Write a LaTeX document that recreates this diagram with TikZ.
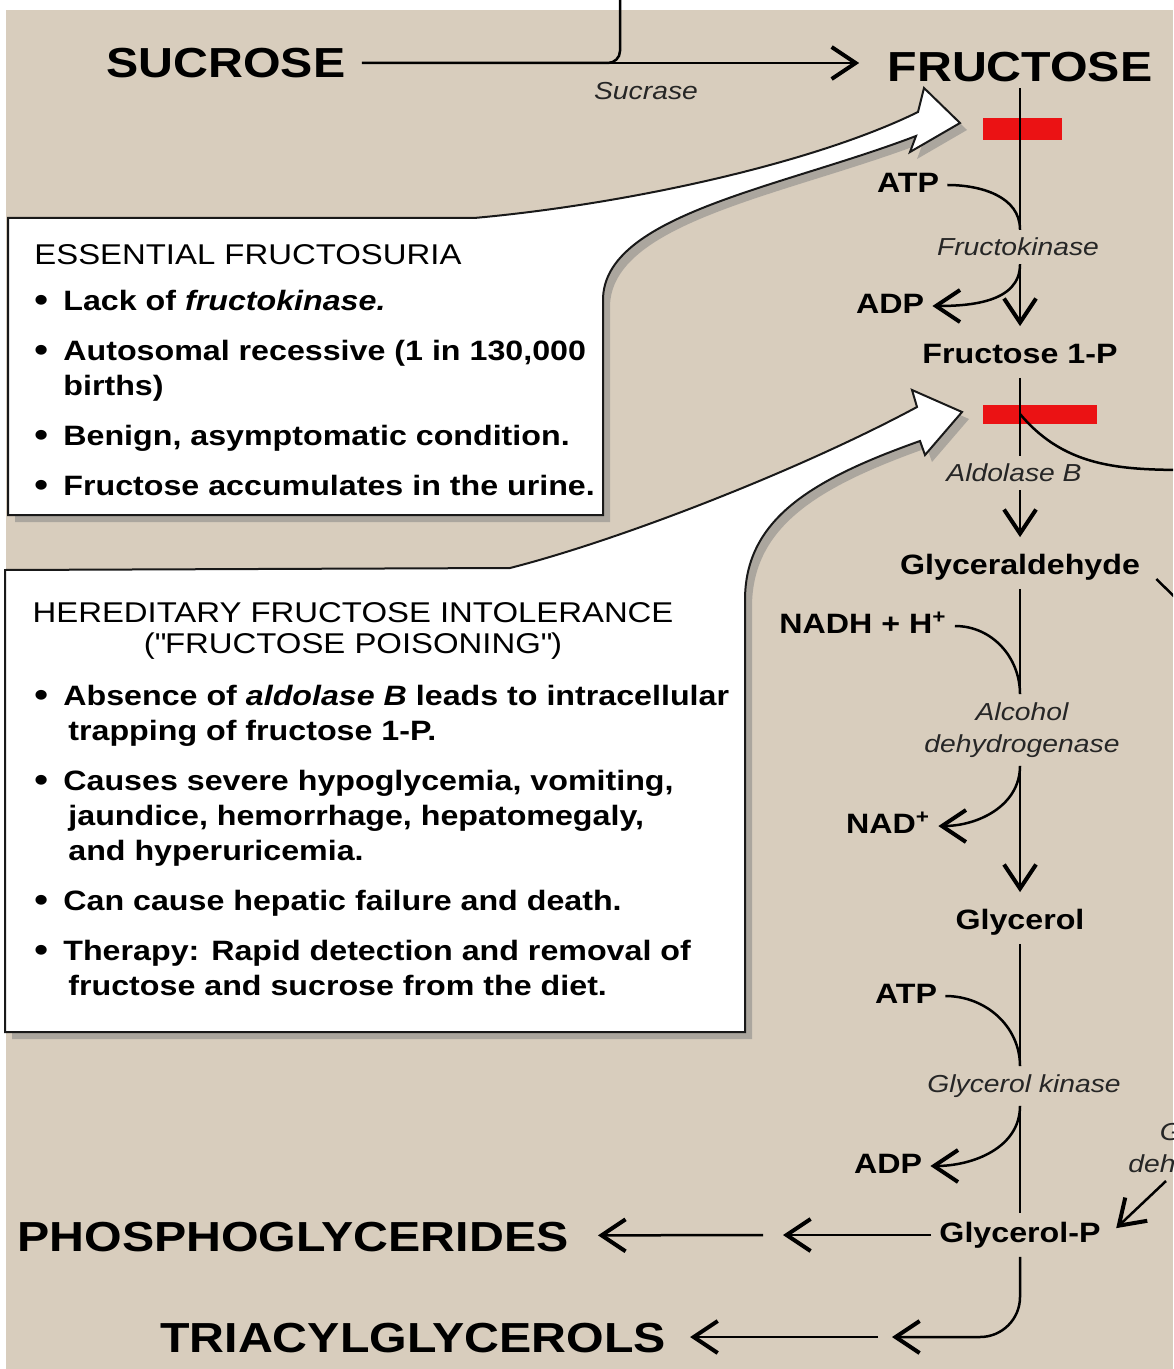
\documentclass[tikz,border=0pt]{standalone}
\usepackage{fontspec}
\setmainfont{Liberation Sans}[FakeStretch=1.15]
\usetikzlibrary{positioning,arrows.meta,shadows}

\definecolor{paper}{RGB}{216,205,189}
\definecolor{blockred}{RGB}{235,18,20}

\newcommand{\bul}{\makebox[14.5pt][l]{\raisebox{-0.8pt}{\fontsize{17}{17}\selectfont\textbullet}}}
\newcommand{\ind}{\hspace*{14.5pt}}
\newcommand{\indB}{\hspace*{17pt}}

\begin{document}
\begin{tikzpicture}[x=0.5pt, y=0.5pt,
  big/.style={font=\fontsize{21}{24}\selectfont\bfseries, inner sep=3pt,
              text height=15pt, text depth=0pt},
  metab/.style={font=\fontsize{14}{16}\selectfont\bfseries, inner sep=4pt,
                text height=10.5pt, text depth=3pt},
  enz/.style={font=\fontsize{12.3}{16}\selectfont\itshape, text=black!85,
              inner xsep=2pt, inner ysep=4pt, align=center},
  block/.style={fill=blockred, inner sep=0pt},
  line/.style={line width=1.25pt},
  arr/.style={line, -{Straight Barb[length=12pt, width=16pt, line width=2pt]}},
  callout/.style={fill=white, draw=black!90, line width=1pt,
                  drop shadow={shadow xshift=3.5pt, shadow yshift=-3.5pt, opacity=0.5}},
  boxhead/.style={font=\fontsize{14.3}{15.5}\selectfont, align=center, inner sep=0pt},
  boxtext/.style={font=\fontsize{14}{17.5}\selectfont\bfseries, align=left,
                  inner sep=0pt, anchor=base west}
]
\useasboundingbox (0,0) rectangle (1173,-1369);
\fill[white] (0,0) rectangle (1173,-1369);
\fill[paper] (6,-10) rectangle (1173,-1369);
\clip (0,0) rectangle (1173,-1369);

% ----- callout boxes -----
\path[callout] (8,-218) -- (474,-218) .. controls (620,-205) and (810,-165) .. (918,-112)
  -- (924,-88) -- (960,-123) -- (910,-152) -- (916,-136)
  .. controls (780,-188) and (603,-215) .. (603,-300) -- (603,-515) -- (8,-515) -- cycle;
\path[callout] (5,-570) -- (510,-568) .. controls (620,-540) and (800,-470) .. (917,-407)
  -- (912,-390) -- (962,-412) -- (925,-455) -- (920,-441)
  .. controls (810,-480) and (745,-520) .. (745,-600) -- (745,-1032) -- (5,-1032) -- cycle;

% base of a multi-line node = its last line
\node[boxhead, anchor=base west] (efHead) at (34,-265) {ESSENTIAL FRUCTOSURIA};
\node[boxtext] (efList) at (34,-495) {\bul Lack of \textit{fructokinase.}\\[7.5pt]
  \bul Autosomal recessive (1 in 130,000\\
  \ind births)\\[7.5pt]
  \bul Benign, asymptomatic condition.\\[7.5pt]
  \bul Fructose accumulates in the urine.};

\node[boxhead, anchor=base] (hfiHead) at (353,-653)
  {HEREDITARY FRUCTOSE INTOLERANCE\\(\textquotedbl FRUCTOSE POISONING\textquotedbl)};
\node[boxtext] (hfiList) at (34,-995) {\bul Absence of \textit{aldolase B} leads to intracellular\\
  \indB trapping of fructose 1-P.\\[7.5pt]
  \bul Causes severe hypoglycemia, vomiting,\\
  \indB jaundice, hemorrhage, hepatomegaly,\\
  \indB and hyperuricemia.\\[7.5pt]
  \bul Can cause hepatic failure and death.\\[7.5pt]
  \bul Therapy: Rapid detection and removal of\\
  \indB fructose and sucrose from the diet.};

% ----- metabolites -----
\node[big] (sucrose)  at (226,-63)    {SUCROSE};
\node[big] (fructose) at (1020,-67)   {FRUCTOSE};
\node[metab] (f1p)       at (1020,-356)  {Fructose 1-P};
\node[metab] (glyald)    at (1020,-567)  {Glyceraldehyde};
\node[metab] (glycerol)  at (1020,-922)  {Glycerol};
\node[metab] (glycerolp) at (1020,-1235) {Glycerol-P};
\node[big] (phosgly) at (293,-1236) {PHOSPHOGLYCERIDES};
\node[big] (tag)     at (413,-1337) {TRIACYLGLYCEROLS};

% ----- cofactors -----
\node[metab] (atpA) at (908,-185)  {ATP};
\node[metab] (adpA) at (890,-306)  {ADP};
\node[metab] (nadh) at (863,-626)  {NADH + H\textsuperscript{+}};
\node[metab] (nad)  at (888,-826)  {NAD\textsuperscript{+}};
\node[metab] (atpB) at (906,-996)  {ATP};
\node[metab] (adpB) at (888,-1166) {ADP};

% ----- enzymes -----
\node[enz] (sucrase) at (646,-91)   {Sucrase};
\node[enz] (fk)      at (1018,-247) {Fructokinase};
\node[enz] (aldoB)   at (1014,-473) {Aldolase B};
\node[enz] (adh)     at (1022,-730) {Alcohol\\dehydrogenase};
\node[enz] (gk)      at (1024,-1086) {Glycerol kinase};
\node[enz] (g3pdh)   at (1226,-1150) {Glycerol-P\\dehydrogenase};

% ----- metabolic blocks -----
\node[block, minimum width=39.5pt, minimum height=11pt] (stopA) at (1022,-129) {};
\node[block, minimum width=57pt, minimum height=9.5pt] (stopB) at (1040,-414) {};

% ----- free ends leaving the picture -----
\coordinate (glcTop)  at (620,20);
\coordinate (dhapOut) at (1200,-470);
\coordinate (glyOut)  at (1192,-614);
\coordinate (g3In)    at (1166,-1181);
\coordinate (pgMid)   at (773,-1235);
\coordinate (tgMid)   at (885,-1337);

% ----- sucrose -> fructose -----
\draw[arr, shorten <=5pt, shorten >=11pt] (sucrose) -- (sucrose -| fructose.west);
\draw[line, rounded corners=6pt, shorten >=5pt] (glcTop) |- (sucrose);

% ----- fructokinase -----
\draw[line] (fructose) -- (fructose |- fk.north);
\draw[arr, shorten >=4pt] (fructose |- fk.south) -- (f1p);
\draw[line] (atpA.east) to[out=0, in=90] (fructose |- fk.north);
\draw[arr] (fructose |- fk.south) to[out=-90, in=0] (adpA.east);

% ----- aldolase B -----
\draw[line] (f1p) -- (f1p |- aldoB.north);
\draw[arr, shorten >=4pt] (f1p |- aldoB.south) -- (glyald);
\draw[line] (f1p |- stopB) to[out=-50, in=180] (dhapOut);
\draw[line] ([xshift=4pt, yshift=-6pt]glyald.east) -- (glyOut);

% ----- alcohol dehydrogenase -----
\draw[line] (glyald) -- (glyald |- adh.north);
\draw[arr, shorten >=4pt] (glyald |- adh.south) -- (glycerol);
\draw[line] (nadh.east) to[out=0, in=90] (glyald |- adh.north);
\draw[arr] (glyald |- adh.south) to[out=-90, in=0] (nad.east);

% ----- glycerol kinase -----
\draw[line] (glycerol) -- (glycerol |- gk.north);
\draw[line] (glycerol |- gk.south) -- (glycerolp);
\draw[line] (atpB.east) to[out=0, in=90] (glycerol |- gk.north);
\draw[arr] (glycerol |- gk.south) to[out=-90, in=0] (adpB.east);
\draw[arr, shorten >=5pt] (g3In) -- (glycerolp.east);

% ----- glycerol-P to lipids -----
\draw[arr, shorten >=5pt] (glycerolp) -- (pgMid);
\draw[arr, shorten <=5pt, shorten >=11.5pt] (pgMid) -- (phosgly);
\draw[arr, rounded corners=20pt, shorten >=3.5pt] (glycerolp) |- (tgMid);
\draw[arr, shorten <=3.5pt, shorten >=9pt] (tgMid) -- (tag);
\end{tikzpicture}
\end{document}
